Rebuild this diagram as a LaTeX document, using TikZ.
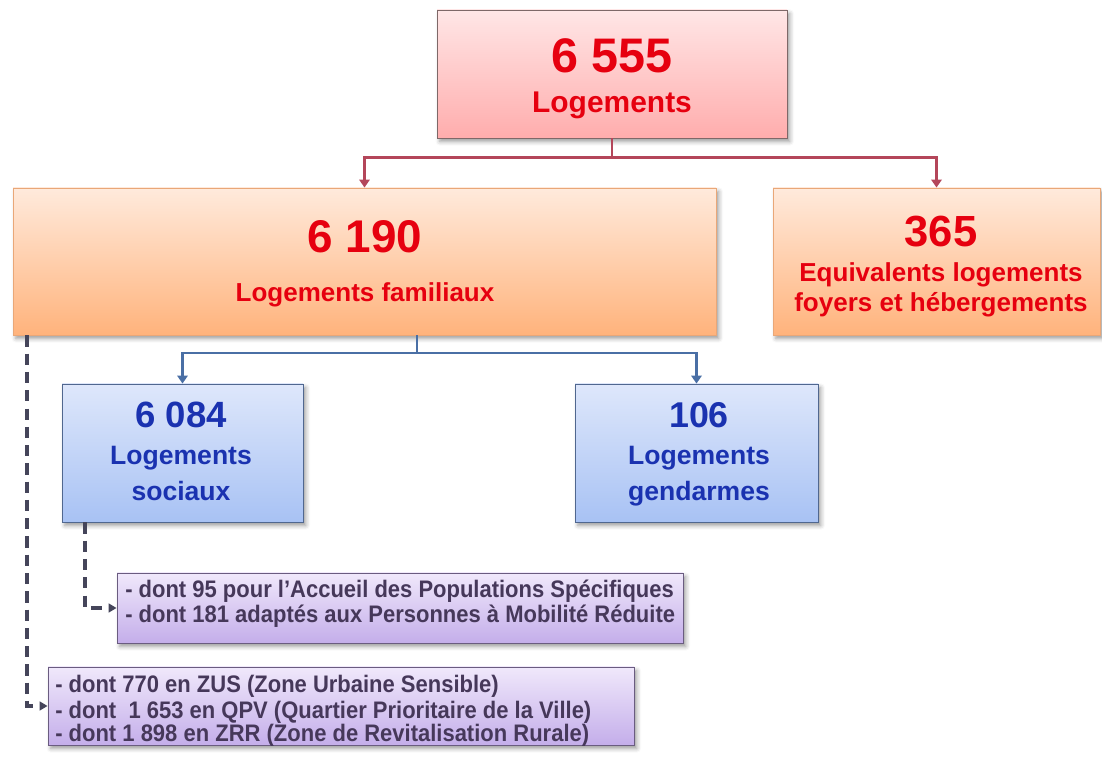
\documentclass[tikz,border=0pt]{standalone}
\usepackage{fontspec}
\setmainfont{Liberation Sans}
\newfontfamily\etroite[FakeStretch=0.92]{Liberation Sans}
\usepackage{xcolor}
\definecolor{rougeTxt}{HTML}{E6000F}
\definecolor{bleuTxt}{HTML}{1A32B0}
\definecolor{violetTxt}{HTML}{46385A}
\definecolor{rougeHaut}{HTML}{FFE6E6}
\definecolor{rougeBas}{HTML}{FFADAD}
\definecolor{rougeBord}{HTML}{7E6868}
\definecolor{orangeHaut}{HTML}{FFEADC}
\definecolor{orangeBas}{HTML}{FFB37C}
\definecolor{orangeBord}{HTML}{E9A778}
\definecolor{bleuHaut}{HTML}{DEE7FB}
\definecolor{bleuBas}{HTML}{A8C2F4}
\definecolor{bleuBord}{HTML}{50678F}
\definecolor{violetHaut}{HTML}{F0E8FB}
\definecolor{violetBas}{HTML}{C4AEEA}
\definecolor{violetBord}{HTML}{6A5C80}
\definecolor{lienRougeC}{HTML}{B4465A}
\definecolor{lienBleuC}{HTML}{4A6FA5}
\definecolor{pointilleC}{HTML}{45455A}
\usepackage{tikz}
\usetikzlibrary{arrows.meta,positioning,shadows.blur}

\tikzset{
  cadre/.style={draw,line width=0.6pt,inner sep=0pt,
    blur shadow={shadow xshift=2pt,shadow yshift=-2.5pt,
      shadow blur radius=3pt,shadow opacity=40}},
  cadreRouge/.style={cadre,draw=rougeBord,top color=rougeHaut,bottom color=rougeBas},
  cadreOrange/.style={cadre,draw=orangeBord,top color=orangeHaut,bottom color=orangeBas},
  cadreBleu/.style={cadre,draw=bleuBord,top color=bleuHaut,bottom color=bleuBas},
  cadreViolet/.style={cadre,draw=violetBord,top color=violetHaut,bottom color=violetBas},
  chiffre/.style={font=\bfseries\fontsize{#1}{#1}\selectfont,anchor=base,inner sep=0pt},
  ligne/.style={font=\etroite\bfseries\fontsize{17}{19}\selectfont,text=violetTxt,
    anchor=base west,inner sep=0pt},
  lienRouge/.style={draw=lienRougeC,line width=2pt},
  lienBleu/.style={draw=lienBleuC,line width=2pt},
  pointille/.style={draw=pointilleC,line width=2.5pt,dash pattern=on 8pt off 5pt,
    -{Triangle[length=2mm,width=2.2mm]}}
}

\begin{document}
\begin{tikzpicture}[x=1cm,y=1cm,>={Triangle[length=2mm,width=2.6mm]}]
\useasboundingbox (0,0) rectangle (27.55,19);

% Cadres
\node[cadreRouge,minimum width=8.75cm,minimum height=3.2cm] (total) at (15.30,17.15) {};
\node[cadreOrange,minimum width=17.575cm,minimum height=3.675cm] (familiaux) at (9.1125,12.4625) {};
\node[cadreOrange,minimum width=8.175cm,minimum height=3.675cm] (foyers) at (23.4125,12.4625) {};
\node[cadreBleu,minimum width=6.025cm,minimum height=3.45cm] (sociaux) at (4.5625,7.675) {};
\node[cadreBleu,minimum width=6.075cm,minimum height=3.45cm] (gendarmes) at (17.4125,7.675) {};
\node[cadreViolet,minimum width=14.15cm,minimum height=1.75cm] (aps) at (10.0,3.8) {};
\node[cadreViolet,minimum width=14.65cm,minimum height=1.95cm] (zones) at (8.525,1.35) {};

% Textes
\node[chiffre=34.5,rougeTxt] (totalNb) at (15.30,17.175) {6 555};
\node[chiffre=21.3,rougeTxt] (totalLbl) at (15.30,16.175) {Logements};

\node[chiffre=32.6,rougeTxt] (familiauxNb) at (9.125,12.675) {6 190};
\node[chiffre=18.5,rougeTxt] (familiauxLbl) at (9.125,11.45) {Logements familiaux};

\node[chiffre=31,rougeTxt] (foyersNb) at (23.525,12.825) {365};
\node[chiffre=18.5,rougeTxt] (foyersLbl1) at (23.525,11.95) {Equivalents logements};
\node[chiffre=18.5,rougeTxt] (foyersLbl2) at (23.525,11.2) {foyers et hébergements};

\node[chiffre=26,bleuTxt] (sociauxNb) at (4.525,8.3) {6 084};
\node[chiffre=18.9,bleuTxt] (sociauxLbl1) at (4.525,7.375) {Logements};
\node[chiffre=18.9,bleuTxt] (sociauxLbl2) at (4.525,6.475) {sociaux};

\node[chiffre=25.5,bleuTxt] (gendarmesNb) at (17.475,8.3) {106};
\node[chiffre=18.9,bleuTxt] (gendarmesLbl1) at (17.475,7.375) {Logements};
\node[chiffre=18.9,bleuTxt] (gendarmesLbl2) at (17.475,6.475) {gendarmes};

\node[ligne] (aps1) at (3.125,4.05) {- dont 95 pour l’Accueil des Populations Spécifiques};
\node[ligne] (aps2) at (3.125,3.425) {- dont 181 adaptés aux Personnes à Mobilité Réduite};

\node[ligne] (zus) at (1.375,1.675) {- dont 770 en ZUS (Zone Urbaine Sensible)};
\node[ligne] (qpv) at (1.375,1.05) {- dont\ \ 1 653 en QPV (Quartier Prioritaire de la Ville)};
\node[ligne] (zrr) at (1.375,0.475) {- dont 1 898 en ZRR (Zone de Revitalisation Rurale)};

% Liens
\coordinate[below=0.475cm of total.south] (nR);
\draw[lienRouge] (total.south) -- (nR);
\draw[lienRouge,->] (nR) -| (familiaux.north);
\draw[lienRouge,->] (nR) -| (foyers.north);

\coordinate (nB) at (10.425,10.175);
\draw[lienBleu] (familiaux.south -| nB) -- (nB);
\draw[lienBleu,->] (nB) -| (sociaux.north);
\draw[lienBleu,->] (nB) -| (gendarmes.north);

\draw[pointille] ([xshift=-2.4375cm]sociaux.south) |- (aps.west);
\draw[pointille] ([xshift=-8.4375cm]familiaux.south) |- (zones.west);

\end{tikzpicture}
\end{document}
